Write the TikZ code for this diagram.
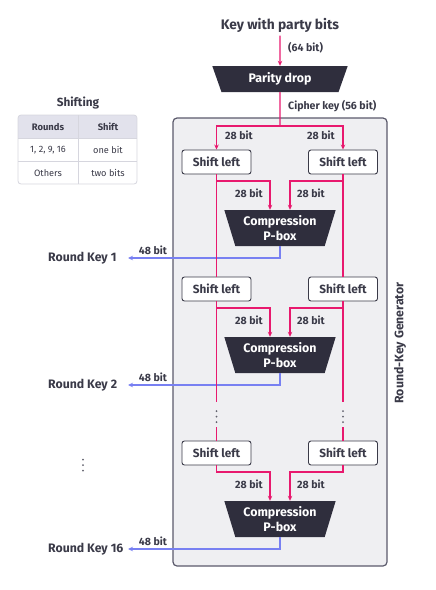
\documentclass[tikz,border=0pt]{standalone}
\usepackage{fontspec}
\setmainfont{Fira Sans}
\usetikzlibrary{shapes.geometric,arrows.meta,calc}
\definecolor{keypink}{HTML}{E8196E}
\definecolor{keyblue}{HTML}{7880F2}
\definecolor{darkbox}{HTML}{2F2E3D}
\definecolor{txt}{HTML}{3A3A48}
\definecolor{panel}{HTML}{EFEFF2}
\definecolor{panelborder}{HTML}{5A596B}
\definecolor{tabhead}{HTML}{E2E2EC}
\definecolor{tabline}{HTML}{D6D6DE}
\tikzset{
  pinkline/.style={draw=keypink,line width=1.3pt},
  blueline/.style={draw=keyblue,line width=1.3pt},
  tip/.style={-{Stealth[length=5pt,width=4.5pt]}},
  shiftbox/.style={draw=txt,fill=white,rounded corners=2.5pt,line width=0.9pt,
    minimum width=69pt,minimum height=24pt,inner sep=0pt,
    font=\fontsize{11.8}{13}\selectfont\bfseries,text=txt},
  pbox/.style={trapezium,shape border rotate=180,trapezium stretches=true,
    fill=darkbox,text=white,inner sep=0pt,font=\fontsize{12.4}{14.5}\selectfont\bfseries,
    align=center},
  bitlab/.style={font=\fontsize{10.6}{12}\selectfont\bfseries,text=txt,inner sep=1pt},
  rklab/.style={font=\fontsize{12.3}{14}\selectfont\bfseries,text=txt,inner sep=0pt,anchor=west},
  tabtxt/.style={font=\fontsize{9.2}{10}\selectfont,text=txt},
  tabhd/.style={font=\fontsize{9.4}{10}\selectfont\bfseries,text=txt},
  dotmark/.style={fill=txt!80},
}
\begin{document}
\begin{tikzpicture}[x=1pt,y=-1pt]
\useasboundingbox (0,0) rectangle (436,590);
% panel
\node[draw=panelborder,fill=panel,line width=1.2pt,rounded corners=4pt,
  minimum width=214pt,minimum height=448pt,inner sep=0pt] (panel) at (280,342) {};
\node[rotate=90,font=\fontsize{12.3}{14}\selectfont\bfseries,text=txt] (rkg) at (400,343) {Round-Key Generator};

% top
\node[font=\fontsize{13.8}{16}\selectfont\bfseries,text=txt] (key) at (280,25) {Key with party bits};
\node[pbox,minimum width=136pt,minimum height=26pt,trapezium angle=69] (parity) at (280,79) {Parity drop};
\draw[pinkline,tip] (key.south) -- (parity.north);
\node[bitlab,anchor=west] (l64) at (287,48) {(64 bit)};
\node[bitlab,anchor=west] (lcipher) at (287,106) {Cipher key (56 bit)};
\coordinate (split) at (280,126);

% stage nodes
\node[shiftbox] (s1L) at (216.5,162) {Shift left};
\node[shiftbox] (s1R) at (343,162) {Shift left};
\node[pbox,minimum width=112pt,minimum height=36pt,trapezium angle=70] (c1) at (280,228) {Compression\\P-box};

\node[shiftbox] (s2L) at (216.5,289) {Shift left};
\node[shiftbox] (s2R) at (343,289) {Shift left};
\node[pbox,minimum width=112pt,minimum height=36pt,trapezium angle=70] (c2) at (280,355) {Compression\\P-box};

\node[shiftbox] (s3L) at (216.5,453) {Shift left};
\node[shiftbox] (s3R) at (343,453) {Shift left};
\node[pbox,minimum width=112pt,minimum height=36pt,trapezium angle=70] (c3) at (280,519) {Compression\\P-box};

% round keys
\node[rklab] (rk1) at (48,258) {Round Key 1};
\node[rklab] (rk2) at (48,385) {Round Key 2};
\node[rklab] (rk16) at (48,549) {Round Key 16};
\coordinate (k1) at (128,258);
\coordinate (k2) at (128,385);
\coordinate (k16) at (128,549);
\node[bitlab] (b48a) at (153,250) {48 bit};
\node[bitlab] (b48b) at (153,377) {48 bit};
\node[bitlab] (b48c) at (153,541) {48 bit};

\draw[blueline,tip] (c1.south) |- (k1);
\draw[blueline,tip] (c2.south) |- (k2);
\draw[blueline,tip] (c3.south) |- (k16);

% pink connectors
\draw[pinkline] (parity.south) -- (split);
\draw[pinkline,tip] (split) -| (s1L.north);
\draw[pinkline,tip] (split) -| (s1R.north);
\node[bitlab] (t1a) at (239,135) {28 bit};
\node[bitlab] (t1b) at (321,135) {28 bit};

% stage 1 to compression
\coordinate (j1L) at (216.5,181);
\coordinate (j1R) at (343,181);
\coordinate (e1L) at (270,181);
\coordinate (e1R) at (290,181);
\draw[pinkline,tip] (j1L) -- (e1L) -- (e1L |- c1.north);
\draw[pinkline,tip] (j1R) -- (e1R) -- (e1R |- c1.north);
\node[bitlab] (t2a) at (249,193) {28 bit};
\node[bitlab] (t2b) at (311,193) {28 bit};
\draw[pinkline] (s1L.south) -- (s2L.north);
\draw[pinkline] (s1R.south) -- (s2R.north);

% stage 2
\coordinate (j2L) at (216.5,308);
\coordinate (j2R) at (343,308);
\coordinate (e2L) at (270,308);
\coordinate (e2R) at (290,308);
\draw[pinkline,tip] (j2L) -- (e2L) -- (e2L |- c2.north);
\draw[pinkline,tip] (j2R) -- (e2R) -- (e2R |- c2.north);
\node[bitlab] (t3a) at (249,320) {28 bit};
\node[bitlab] (t3b) at (311,320) {28 bit};
\coordinate (g2L) at (216.5,402);
\coordinate (g2R) at (343,402);
\coordinate (h2L) at (216.5,427);
\coordinate (h2R) at (343,427);
\draw[pinkline] (s2L.south) -- (g2L);
\draw[pinkline] (s2R.south) -- (g2R);
\draw[pinkline] (h2L) -- (s3L.north);
\draw[pinkline] (h2R) -- (s3R.north);
\foreach \yy in {411,416.5,422}{
  \fill[dotmark] (216.5,\yy) circle (1pt);
  \fill[dotmark] (343,\yy) circle (1pt);
  \fill[dotmark] (83,\yy+48.5) circle (1pt);
}

% stage 3
\coordinate (j3L) at (216.5,472);
\coordinate (j3R) at (343,472);
\coordinate (e3L) at (270,472);
\coordinate (e3R) at (290,472);
\draw[pinkline,tip] (s3L.south) -- (j3L) -- (e3L) -- (e3L |- c3.north);
\draw[pinkline,tip] (s3R.south) -- (j3R) -- (e3R) -- (e3R |- c3.north);
\node[bitlab] (t4a) at (249,484) {28 bit};
\node[bitlab] (t4b) at (311,484) {28 bit};

% shifting table
\node[font=\fontsize{11.8}{13}\selectfont\bfseries,text=txt] (shtitle) at (78,103) {Shifting};
\begin{scope}
\clip[rounded corners=3pt] (18,115) rectangle (137,184);
\fill[tabhead] (18,115) rectangle (137,138);
\fill[white] (18,138) rectangle (137,184);
\draw[tabline,line width=0.8pt] (18,138) -- (137,138);
\draw[tabline,line width=0.8pt] (18,161) -- (137,161);
\draw[tabline,line width=0.8pt] (78,115) -- (78,184);
\end{scope}
\draw[tabline,line width=0.8pt,rounded corners=3pt] (18,115) rectangle (137,184);
\node[tabhd] (h1) at (48,127) {Rounds};
\node[tabhd] (h2) at (108,127) {Shift};
\node[tabtxt] (r11) at (48,150) {1, 2, 9, 16};
\node[tabtxt] (r12) at (108,150) {one bit};
\node[tabtxt] (r21) at (48,173) {Others};
\node[tabtxt] (r22) at (108,173) {two bits};
\end{tikzpicture}
\end{document}
